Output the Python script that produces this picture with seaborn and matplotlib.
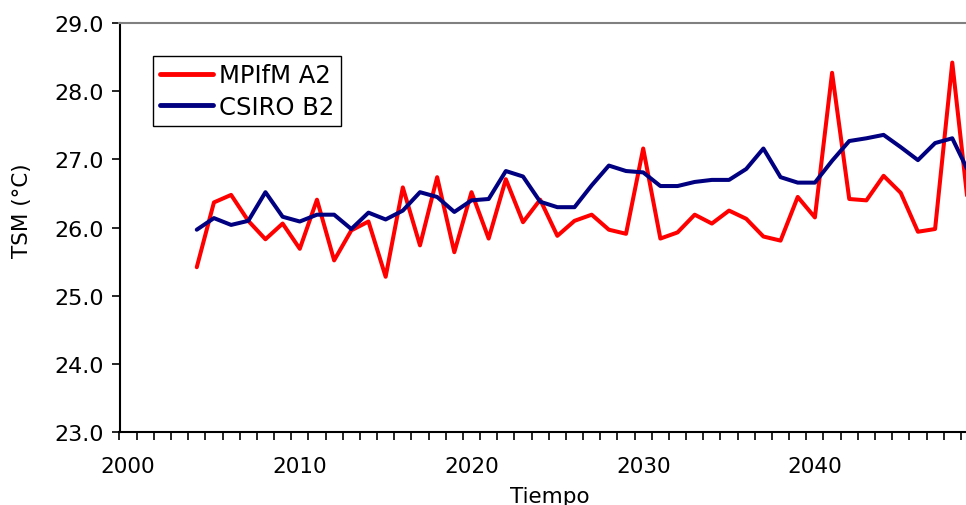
import numpy as np
import pandas as pd
import matplotlib
matplotlib.use("Agg")
import matplotlib.pyplot as plt
from matplotlib.ticker import MultipleLocator, FormatStrFormatter
import seaborn as sns

years = list(range(2004, 2050))
mpifm_a2 = [25.42, 26.37, 26.48, 26.10, 25.83, 26.06, 25.69, 26.41, 25.52, 25.96,
            26.09, 25.28, 26.59, 25.74, 26.74, 25.64, 26.52, 25.84, 26.71, 26.08,
            26.41, 25.88, 26.10, 26.19, 25.97, 25.91, 27.16, 25.84, 25.93, 26.19,
            26.06, 26.25, 26.13, 25.87, 25.81, 26.45, 26.15, 28.27, 26.42, 26.40,
            26.76, 26.51, 25.94, 25.98, 28.42, 26.15]
csiro_b2 = [25.97, 26.14, 26.04, 26.10, 26.52, 26.16, 26.09, 26.19, 26.19, 25.98,
            26.22, 26.12, 26.25, 26.52, 26.45, 26.23, 26.40, 26.42, 26.83, 26.75,
            26.38, 26.30, 26.30, 26.62, 26.91, 26.83, 26.81, 26.61, 26.61, 26.67,
            26.70, 26.70, 26.86, 27.16, 26.74, 26.66, 26.66, 26.98, 27.27, 27.31,
            27.36, 27.18, 26.99, 27.24, 27.31, 26.79]
series_names = ["MPIfM A2", "CSIRO B2"]
series_colors = ["#FF0000", "#000080"]
x_tick_labels = ["2000", "2010", "2020", "2030", "2040"]

df = pd.DataFrame({
    "Tiempo": years * 2,
    "TSM": mpifm_a2 + csiro_b2,
    "Serie": [series_names[0]] * len(years) + [series_names[1]] * len(years),
})

sns.set_style("ticks")
plt.rcParams["font.family"] = ["DejaVu Sans"]
plt.rcParams["text.color"] = "black"
plt.rcParams["axes.labelcolor"] = "black"
plt.rcParams["xtick.color"] = "black"
plt.rcParams["ytick.color"] = "black"

fig = plt.figure(figsize=(9.66, 5.06), dpi=100)
ax = fig.add_axes([119.5 / 966, 1 - 433.3 / 506, 1 - 119.5 / 966, (433.3 - 24) / 506])

sns.lineplot(data=df, x="Tiempo", y="TSM", hue="Serie",
             palette=dict(zip(series_names, series_colors)),
             linewidth=2.9, ax=ax, legend=False)

ax.set_xlim(1999.5, 2048.8)
ax.set_ylim(23.0, 29.0)

ax.set_xticks([int(t) for t in x_tick_labels])
ax.set_xticklabels(x_tick_labels)
ax.xaxis.set_minor_locator(MultipleLocator(1, offset=0.5))
ax.tick_params(axis="x", which="major", length=0, pad=17, labelsize=15.5,
               colors="black", labelcolor="black")
ax.tick_params(axis="x", which="minor", length=6, width=1.2, direction="out", color="black")
ax.yaxis.set_major_locator(MultipleLocator(1.0))
ax.yaxis.set_major_formatter(FormatStrFormatter("%.1f"))
ax.tick_params(axis="y", length=6, width=1.2, direction="out", labelsize=16, pad=5,
               color="black", labelcolor="black")

ax.set_xlabel("Tiempo", fontsize=15.5, color="black")
ax.set_ylabel("TSM (°C)", fontsize=15.5, color="black")
ax.xaxis.set_label_coords(0.508, -0.13)
ax.yaxis.set_label_coords(-0.103, 0.543)

for s in ["left", "bottom"]:
    ax.spines[s].set_color("black")
    ax.spines[s].set_linewidth(1.5)
ax.spines["top"].set_visible(True)
ax.spines["top"].set_color("#808080")
ax.spines["top"].set_linewidth(1.5)
ax.spines["right"].set_visible(False)

handles = [plt.Line2D([], [], color=c, lw=3.5) for c in series_colors]
leg = ax.legend(handles, series_names, loc="upper left",
                bbox_to_anchor=((153 - 119.5) / 846.5, (433.3 - 57) / 409.3),
                fontsize=17.5, frameon=True, fancybox=False, framealpha=1,
                edgecolor="black", handlelength=2.15, handletextpad=0.25,
                borderpad=0.3, labelspacing=0.3, borderaxespad=0)
leg.get_frame().set_linewidth(1.0)
for t in leg.get_texts():
    t.set_color("black")

fig.savefig("out.png", dpi=100)
